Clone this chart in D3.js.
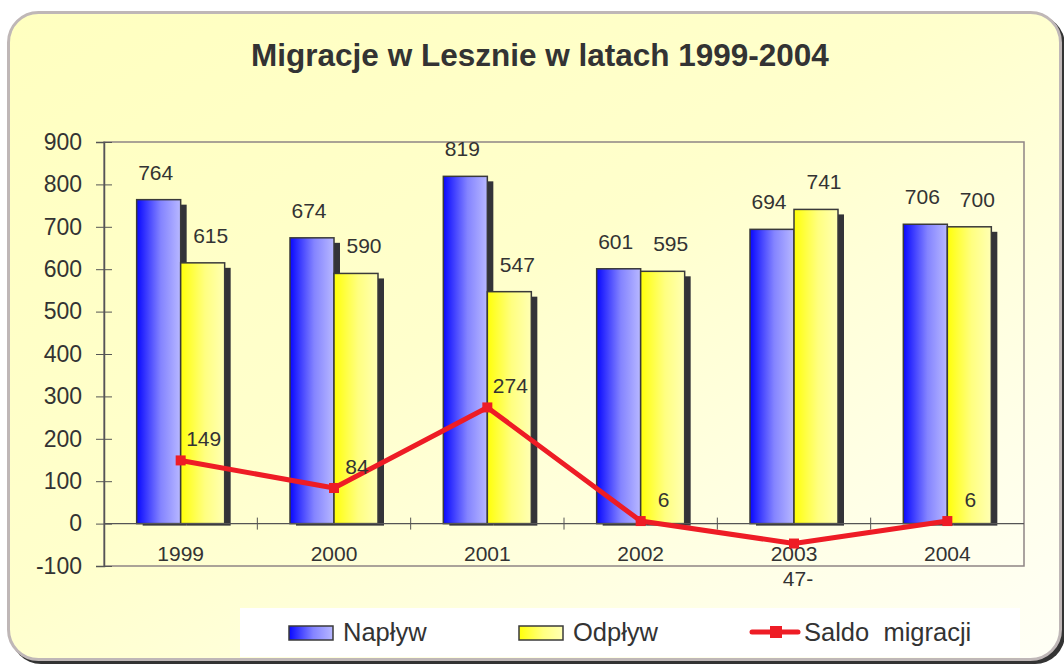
<!DOCTYPE html>
<html>
<head>
<meta charset="utf-8">
<script src="https://cdn.jsdelivr.net/npm/d3@7"></script>
<style>
  body { margin: 0; background: #ffffff; }
  text { font-family: "Liberation Sans", Arial, sans-serif; fill: #333333; }
</style>
</head>
<body>
<svg id="canvas" width="1064" height="664"></svg>
<script>
var years = ["1999", "2000", "2001", "2002", "2003", "2004"];
var naplyw = [764, 674, 819, 601, 694, 706];
var odplyw = [615, 590, 547, 595, 741, 700];
var saldo = [149, 84, 274, 6, -47, 6];
var saldoLabels = ["149", "84", "274", "6", "47-", "6"];
var yTicks = [-100, 0, 100, 200, 300, 400, 500, 600, 700, 800, 900];
var seriesNames = ["Napływ", "Odpływ", "Saldo  migracji"];

var svg = d3.select("#canvas");
var defs = svg.append("defs");

function grad(id, stops, x2, y2) {
	var g = defs.append("linearGradient").attr("id", id)
		.attr("x1", 0).attr("y1", 0).attr("x2", x2).attr("y2", y2);
	stops.forEach(function (s) {
		g.append("stop").attr("offset", s[0]).attr("stop-color", s[1]);
	});
}
grad("bg", [[0, "#ffffc0"], [0.45, "#ffffcc"], [0.8, "#ffffe8"], [1, "#fffff6"]], 1, 1);
grad("blue", [[0, "#0808ff"], [0.55, "#8484ff"], [1, "#b8b8ff"]], 1, 0);
grad("yellow", [[0, "#ffff08"], [0.55, "#ffff80"], [1, "#ffffb4"]], 1, 0);

// card
svg.append("rect").attr("x", 11).attr("y", 15).attr("width", 1054).attr("height", 649)
	.attr("rx", 30).attr("fill", "#333");
svg.append("rect").attr("x", 8.5).attr("y", 12.5).attr("width", 1052).attr("height", 647)
	.attr("rx", 30).attr("fill", "url(#bg)").attr("stroke", "#bfb7b7").attr("stroke-width", 3);

svg.append("text").attr("x", 540).attr("y", 66).attr("text-anchor", "middle")
	.style("font-size", "31.5px").style("font-weight", "bold").text("Migracje w Lesznie w latach 1999-2004");

var plotLeft = 104, plotRight = 1024, plotTop = 142, plotBottom = 566;

var x = d3.scaleBand().domain(years).range([plotLeft, plotRight]).paddingInner(0).paddingOuter(0);
var xs = d3.scaleBand().domain(["n", "o"]).range([-44, 44]);
var y = d3.scaleLinear().domain([-100, 900]).range([plotBottom, plotTop]);

// plot frame
svg.append("rect").attr("x", plotLeft).attr("y", plotTop)
	.attr("width", plotRight - plotLeft).attr("height", plotBottom - plotTop)
	.attr("fill", "none").attr("stroke", "#8f8585").attr("stroke-width", 1.5);

var yAxis = d3.axisLeft(y).tickValues(yTicks).tickFormat(String).tickSize(8).tickPadding(14);
var gy = svg.append("g").attr("transform", "translate(" + plotLeft + ",0)").call(yAxis);
gy.select(".domain").attr("stroke", "#555").attr("stroke-width", 1.5);
gy.selectAll(".tick line").attr("x2", -8).attr("x1", 8).attr("stroke", "#555");
gy.selectAll(".tick text").style("font-size", "23px").attr("fill", "#333");

// bars, shadow first so the yellow bar covers the blue shadow
var cx = function (i) { return x(years[i]) + x.bandwidth() / 2; };
var series = [{ key: "n", vals: naplyw, fill: "url(#blue)" }, { key: "o", vals: odplyw, fill: "url(#yellow)" }];
var bw = xs.bandwidth();
var barG = svg.append("g");
years.forEach(function (yr, i) {
	series.forEach(function (s) {
		var v = s.vals[i];
		barG.append("rect").attr("x", cx(i) + xs(s.key) + 6).attr("y", y(v) + 5)
			.attr("width", bw).attr("height", y(0) - y(v) - 3).attr("fill", "#333338");
		barG.append("rect").attr("x", cx(i) + xs(s.key)).attr("y", y(v))
			.attr("width", bw).attr("height", y(0) - y(v)).attr("fill", s.fill)
			.attr("stroke", "#3a3a3a").attr("stroke-width", 1.5);
	});
});

// x axis at zero
svg.append("line").attr("x1", plotLeft).attr("x2", plotRight).attr("y1", y(0)).attr("y2", y(0))
	.attr("stroke", "#555").attr("stroke-width", 1.2);
svg.selectAll(".xtick").data(years.slice(1)).enter().append("line")
	.attr("x1", function (d) { return x(d); }).attr("x2", function (d) { return x(d); })
	.attr("y1", y(0) - 6).attr("y2", y(0) + 6).attr("stroke", "#555");
svg.selectAll(".xlab").data(years).enter().append("text")
	.attr("x", function (d, i) { return cx(i); }).attr("y", 561).attr("text-anchor", "middle")
	.style("font-size", "21px").text(function (d) { return d; });

// bar value labels
svg.selectAll(".nlab").data(naplyw).enter().append("text")
	.attr("x", function (d, i) { return cx(i) + xs("n") + bw / 2 - 3; })
	.attr("y", function (d) { return y(d) - 20; }).attr("text-anchor", "middle")
	.style("font-size", "21px").text(function (d) { return d; });
svg.selectAll(".olab").data(odplyw).enter().append("text")
	.attr("x", function (d, i) { return cx(i) + xs("o") + bw / 2 + 8; })
	.attr("y", function (d) { return y(d) - 20; }).attr("text-anchor", "middle")
	.style("font-size", "21px").text(function (d) { return d; });

// saldo line
var line = d3.line().x(function (d, i) { return cx(i); }).y(function (d) { return y(d); });
svg.append("path").datum(saldo).attr("d", line).attr("fill", "none")
	.attr("stroke", "#ee1c25").attr("stroke-width", 5).attr("stroke-linejoin", "round");
svg.selectAll(".mk").data(saldo).enter().append("rect")
	.attr("x", function (d, i) { return cx(i) - 5; }).attr("y", function (d) { return y(d) - 5; })
	.attr("width", 10).attr("height", 10).attr("fill", "#ee1c25");
svg.selectAll(".slab").data(saldo).enter().append("text")
	.attr("x", function (d, i) { return d < 0 ? cx(i) + 4 : cx(i) + 23; })
	.attr("y", function (d) { return d < 0 ? y(d) + 42 : y(d) - 14; })
	.attr("text-anchor", "middle").style("font-size", "21px")
	.text(function (d, i) { return saldoLabels[i]; });

// legend
var lg = svg.append("g");
lg.append("rect").attr("x", 240).attr("y", 608).attr("width", 780).attr("height", 49).attr("fill", "#ffffff");
lg.append("rect").attr("x", 289).attr("y", 626).attr("width", 44).attr("height", 14)
	.attr("fill", "url(#blue)").attr("stroke", "#3a3a3a").attr("stroke-width", 1.5);
lg.append("text").attr("x", 343).attr("y", 641).style("font-size", "25.5px").text(seriesNames[0]);
lg.append("rect").attr("x", 519).attr("y", 626).attr("width", 44).attr("height", 14)
	.attr("fill", "url(#yellow)").attr("stroke", "#3a3a3a").attr("stroke-width", 1.5);
lg.append("text").attr("x", 573).attr("y", 641).style("font-size", "25.5px").text(seriesNames[1]);
lg.append("line").attr("x1", 752).attr("x2", 798).attr("y1", 632).attr("y2", 632)
	.attr("stroke", "#ee1c25").attr("stroke-width", 5).attr("stroke-linecap", "round");
lg.append("rect").attr("x", 770).attr("y", 626).attr("width", 12).attr("height", 12).attr("fill", "#ee1c25");
lg.append("text").attr("x", 804).attr("y", 641).style("font-size", "25.5px")
	.style("white-space", "pre").attr("xml:space", "preserve").text(seriesNames[2]);
</script>
</body>
</html>
